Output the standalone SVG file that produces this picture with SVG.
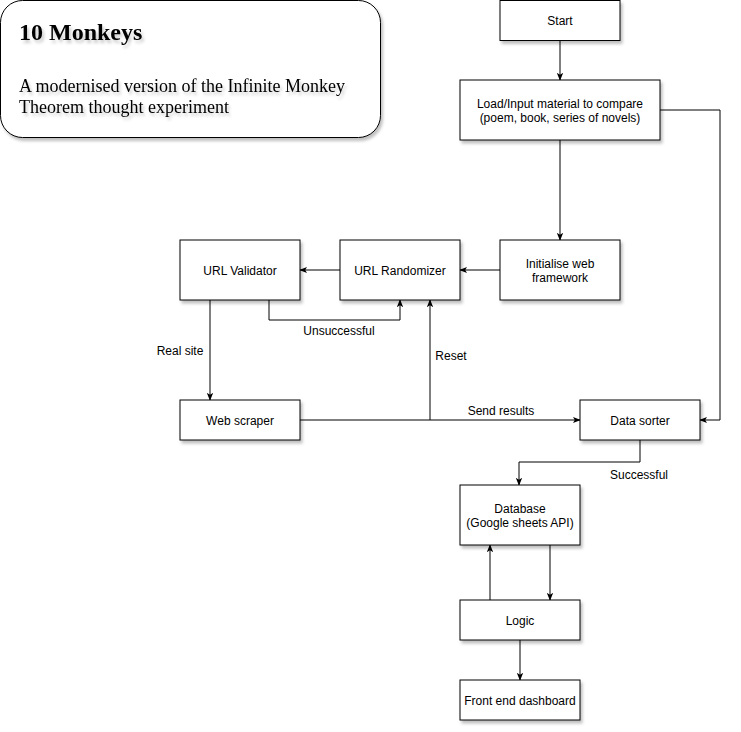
<svg xmlns="http://www.w3.org/2000/svg" width="741" height="732" viewBox="0 0 741 732">
<defs>
<filter id="sh" x="-10%" y="-10%" width="130%" height="140%">
<feDropShadow dx="2" dy="3" stdDeviation="1.5" flood-color="#000" flood-opacity="0.25"/>
</filter>
<filter id="tsh" x="-10%" y="-30%" width="130%" height="180%">
<feDropShadow dx="2" dy="3" stdDeviation="1.5" flood-color="#000" flood-opacity="0.2"/>
</filter>
<marker id="arr" viewBox="0 0 10 10" refX="9" refY="5" markerWidth="8" markerHeight="8" markerUnits="userSpaceOnUse" orient="auto">
<path d="M0,1 L10,5 L0,9 L2.5,5 Z" fill="#000"/>
</marker>
<style>
.box{fill:#fff;stroke:#000;stroke-width:1;filter:url(#sh)}
.t{font-family:"Liberation Sans",Arial,sans-serif;font-size:12px;fill:#000;text-anchor:middle}
.lbl{font-family:"Liberation Sans",Arial,sans-serif;font-size:12px;fill:#000;text-anchor:middle}
.c{fill:none;stroke:#000;stroke-width:1;marker-end:url(#arr)}
.serif{font-family:"Liberation Serif","Times New Roman",serif;fill:#000;filter:url(#tsh)}
</style>
</defs>
<rect width="741" height="732" fill="#fff"/>
<g id="title">
<rect class="box" x="0.5" y="0.5" width="380" height="137" rx="22" ry="22"/>
<text class="serif" x="19" y="40" font-size="24" font-weight="bold">10 Monkeys</text>
<text class="serif" x="19" y="92" font-size="18">A modernised version of the Infinite Monkey</text>
<text class="serif" x="19" y="113" font-size="18">Theorem thought experiment</text>
</g>
<g id="connectors">
<path class="c" d="M560,40 V80"/>
<path class="c" d="M560,140 V240"/>
<path class="c" d="M660,110 H720 V420 H700"/>
<path class="c" d="M500,270 H460"/>
<path class="c" d="M340,270 H300"/>
<path class="c" d="M269,300 V320 H400 V300"/>
<text class="lbl" x="339" y="335">Unsuccessful</text>
<path class="c" d="M210,300 V400"/>
<text class="lbl" x="180" y="355">Real site</text>
<path class="c" d="M300,420 H580"/>
<text class="lbl" x="501" y="415">Send results</text>
<path class="c" d="M430,420 V300"/>
<text class="lbl" x="451" y="360">Reset</text>
<path class="c" d="M640,440 V462 H519 V485"/>
<text class="lbl" x="639" y="479">Successful</text>
<path class="c" d="M490,600 V545"/>
<path class="c" d="M550,545 V600"/>
<path class="c" d="M520,640 V680"/>
</g>
<g id="start">
<rect class="box" x="500" y="0.5" width="120" height="40"/>
<text class="t" x="560" y="24.5">Start</text>
</g>
<g id="load">
<rect class="box" x="460" y="80" width="200" height="60"/>
<text class="t" x="560" y="108">Load/Input material to compare</text>
<text class="t" x="560" y="122">(poem, book, series of novels)</text>
</g>
<g id="init">
<rect class="box" x="500" y="240" width="120" height="60"/>
<text class="t" x="560" y="268">Initialise web</text>
<text class="t" x="560" y="282">framework</text>
</g>
<g id="randomizer">
<rect class="box" x="340" y="240" width="120" height="60"/>
<text class="t" x="400" y="274.5">URL Randomizer</text>
</g>
<g id="validator">
<rect class="box" x="180" y="240" width="120" height="60"/>
<text class="t" x="240" y="274.5">URL Validator</text>
</g>
<g id="scraper">
<rect class="box" x="180" y="400" width="120" height="40"/>
<text class="t" x="240" y="424.5">Web scraper</text>
</g>
<g id="sorter">
<rect class="box" x="580" y="400" width="120" height="40"/>
<text class="t" x="640" y="424.5">Data sorter</text>
</g>
<g id="database">
<rect class="box" x="460" y="485" width="120" height="60"/>
<text class="t" x="520" y="513">Database</text>
<text class="t" x="520" y="527">(Google sheets API)</text>
</g>
<g id="logic">
<rect class="box" x="460" y="600" width="120" height="40"/>
<text class="t" x="520" y="624.5">Logic</text>
</g>
<g id="frontend">
<rect class="box" x="460" y="680" width="120" height="40"/>
<text class="t" x="520" y="704.5">Front end dashboard</text>
</g>
</svg>
